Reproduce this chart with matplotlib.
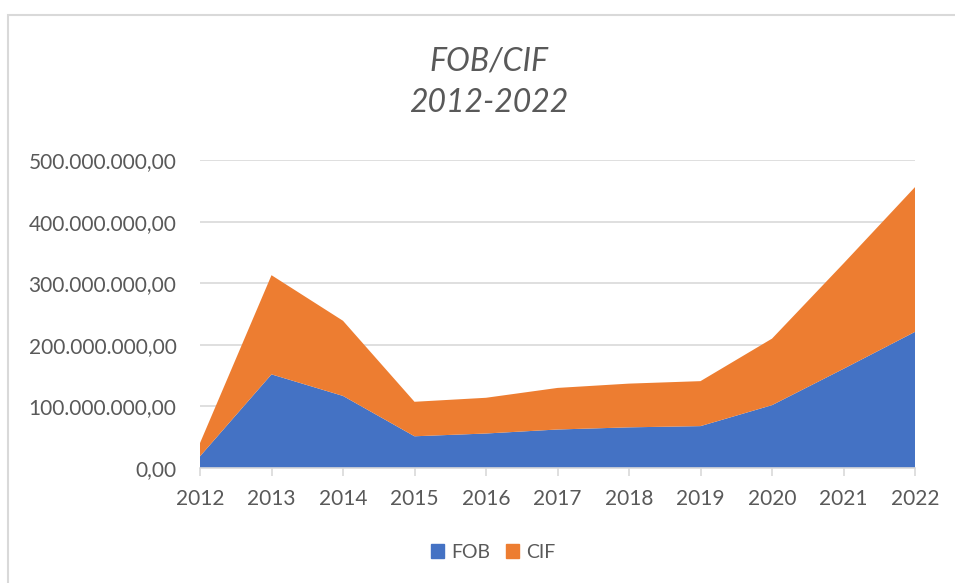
import matplotlib.pyplot as plt
from matplotlib.patches import Rectangle, Patch
from matplotlib.ticker import FuncFormatter

# values
years = [2012, 2013, 2014, 2015, 2016, 2017, 2018, 2019, 2020, 2021, 2022]
fob = [19e6, 152e6, 117e6, 51.5e6, 56e6, 62.5e6, 66e6, 68e6, 102e6, 161e6, 221e6]
total = [40.5e6, 313e6, 239e6, 107.5e6, 114e6, 130e6, 137e6, 141e6, 210e6, 332e6, 456e6]
cif = [t - f for t, f in zip(total, fob)]

blue = '#4472C4'
orange = '#ED7D31'
grey_txt = '#595959'
grid_col = '#D9D9D9'

plt.rcParams['font.family'] = ['Lato', 'DejaVu Sans']

fig = plt.figure(figsize=(9.55, 5.83), dpi=100)
ax = fig.add_axes([200 / 955, 1 - 468 / 583, 715 / 955, 308 / 583])

ax.stackplot(years, fob, cif, colors=[blue, orange], labels=['FOB', 'CIF'], linewidth=0)

ax.set_xlim(2012, 2022)
ax.set_ylim(0, 500e6)
ax.set_yticks(range(0, 500000001, 100000000))
ax.set_xticks(years)


def fmt(v, pos):
    s = f'{v:,.2f}'
    return s.replace(',', 'X').replace('.', ',').replace('X', '.')


ax.yaxis.set_major_formatter(FuncFormatter(fmt))
ax.grid(axis='y', color=grid_col, linewidth=1.2)
ax.set_axisbelow(True)
for s in ['top', 'right', 'left']:
    ax.spines[s].set_visible(False)
ax.spines['bottom'].set_color(grid_col)
ax.spines['bottom'].set_linewidth(1.2)
ax.spines['bottom'].set_zorder(5)
ax.tick_params(axis='y', length=0, pad=17, labelsize=15, labelcolor=grey_txt)
ax.tick_params(axis='x', length=6, width=1.2, color=grid_col, pad=9,
               labelsize=15, labelcolor=grey_txt)

fig.text(489 / 955, 1 - 62 / 583, 'FOB/CIF', ha='center', va='center', fontsize=23,
         style='italic', color=grey_txt)
fig.text(489 / 955, 1 - 103 / 583, '2012-2022', ha='center', va='center', fontsize=23,
         style='italic', color=grey_txt)

handles = [Patch(color=blue, label='FOB'), Patch(color=orange, label='CIF')]
fig.legend(handles=handles, loc='center', bbox_to_anchor=(493 / 955, 1 - 552 / 583),
           ncol=2, frameon=False, fontsize=14, labelcolor=grey_txt,
           handlelength=0.7, handleheight=0.7, handletextpad=0.35, columnspacing=0.8)

# outer chart border
fig.patches.append(Rectangle((8 / 955, -0.1), 1.2, 1 - 15 / 583 + 0.1,
                             transform=fig.transFigure, fill=False,
                             edgecolor=grid_col, linewidth=1.5))

fig.savefig('out.png', dpi=100)
